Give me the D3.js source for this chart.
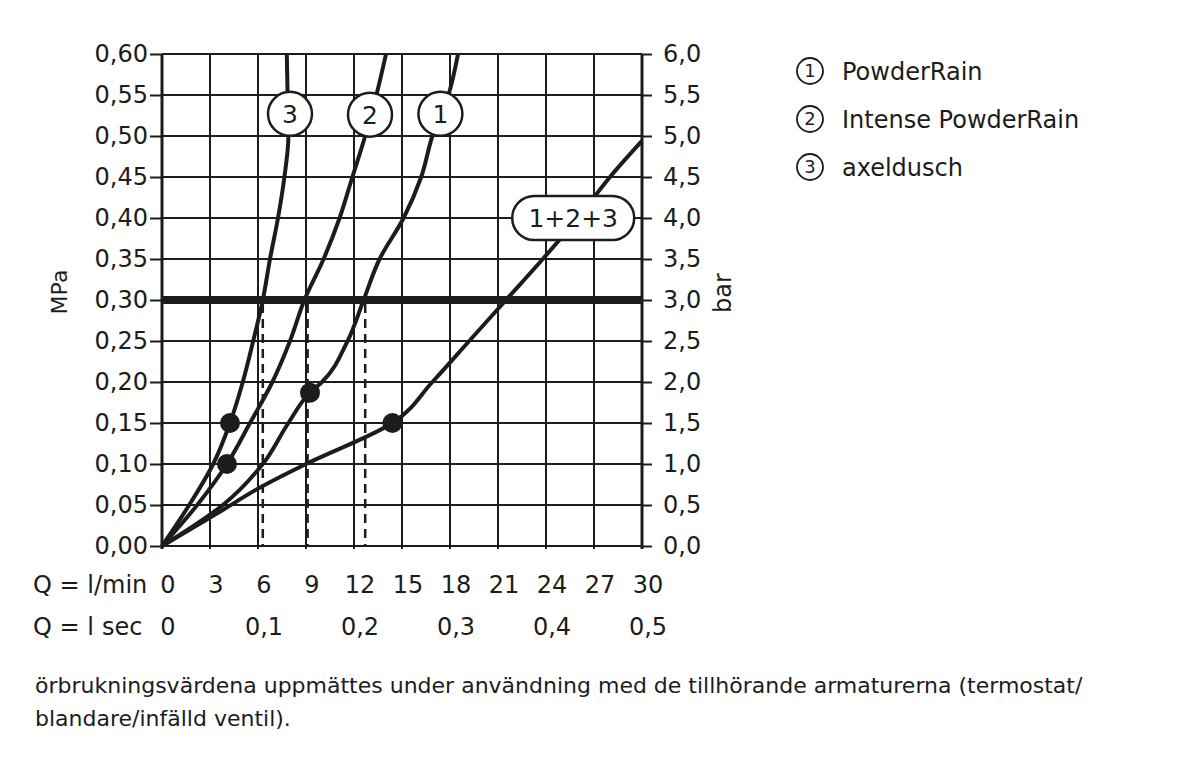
<!DOCTYPE html>
<html lang="sv">
<head>
<meta charset="UTF-8">
<title>Durchfluss-Diagramm</title>
<script src="https://cdn.jsdelivr.net/npm/d3@7"></script>
<style>
    body { margin: 0; background: #ffffff; }
    svg text { font-family: 'DejaVu Sans', sans-serif; fill: #1c1c1c; }
</style>
</head>
<body>
<div id="chart"></div>
<script>
// tick values
const flowTicks = [0, 3, 6, 9, 12, 15, 18, 21, 24, 27, 30]      // l/min
const secTicks = [0, 0.1, 0.2, 0.3, 0.4, 0.5]                  // l/sec
const mpaTicks = [0, 0.05, 0.10, 0.15, 0.20, 0.25, 0.30, 0.35, 0.40, 0.45, 0.50, 0.55, 0.60]
const barTicks = [0, 0.5, 1.0, 1.5, 2.0, 2.5, 3.0, 3.5, 4.0, 4.5, 5.0, 5.5, 6.0]

// curves: [Q l/min, p MPa]
const powderRain = [[0, 0], [3.8, 0.05], [6.3, 0.10], [7.9, 0.15], [9.25, 0.187], [10.0, 0.20],
    [11.6, 0.25], [12.6, 0.30], [13.6, 0.35], [15.1, 0.40], [16.2, 0.45], [16.9, 0.50],
    [17.9, 0.55], [18.5, 0.60]]
const intensePowderRain = [[0, 0], [2.2, 0.05], [4.06, 0.10], [5.5, 0.15], [6.9, 0.20],
    [8.0, 0.25], [8.9, 0.30], [10.1, 0.35], [11.1, 0.40], [11.9, 0.45], [12.7, 0.50],
    [13.4, 0.55], [14.0, 0.60]]
const axeldusch = [[0, 0], [1.7, 0.05], [3.2, 0.10], [4.25, 0.15], [5.05, 0.20], [5.7, 0.25],
    [6.3, 0.30], [6.75, 0.35], [7.25, 0.40], [7.65, 0.45], [7.9, 0.50], [7.85, 0.55], [7.8, 0.60]]
const combined = [[0, 0], [3.8, 0.044], [6.1, 0.071], [9.0, 0.10], [14.4, 0.15], [16.9, 0.20],
    [19.2, 0.25], [21.5, 0.30], [23.8, 0.35], [26.0, 0.40], [28.0, 0.45], [30, 0.494]]

const markers = [[4.25, 0.15], [4.06, 0.10], [9.25, 0.187], [14.4, 0.15]]
const refPressure = 0.30
const refFlows = [6.3, 9.1, 12.7]

const bubbles = [
    { text: "3", q: 8.0, p: 0.527 },
    { text: "2", q: 13.0, p: 0.526 },
    { text: "1", q: 17.4, p: 0.527 }
]
const comboLabel = { text: "1+2+3", q: 25.7, p: 0.40 }

const legendItems = ["PowderRain", "Intense PowderRain", "axeldusch"]
const note = [
    "örbrukningsvärdena uppmättes under användning med de tillhörande armaturerna (termostat/",
    "blandare/infälld ventil)."
]

const width = 1200
const height = 765
const ink = "#1c1c1c"

const svg = d3.select("#chart").append("svg")
    .attr("width", width)
    .attr("height", height)

const x = d3.scaleLinear().domain([0, 30]).range([162, 642])
const y = d3.scaleLinear().domain([0, 0.6]).range([546, 54])
const yBar = d3.scaleLinear().domain([0, 6]).range([546, 54])

const locale = d3.formatLocale({ decimal: ",", thousands: ".", grouping: [3], currency: ["", ""] })
const fmt2 = locale.format(".2f")
const fmt1 = locale.format(".1f")

// grid
const grid = svg.append("g")
grid.selectAll(".v")
    .data(flowTicks)
    .enter().append("line")
    .attr("x1", d => x(d)).attr("x2", d => x(d))
    .attr("y1", y(0.6)).attr("y2", y(0) + 3)
    .attr("stroke", ink)
    .attr("stroke-width", (d, i) => (i === 0 || i === flowTicks.length - 1) ? 3 : 2)
grid.selectAll(".h")
    .data(mpaTicks)
    .enter().append("line")
    .attr("x1", x(0)).attr("x2", x(30))
    .attr("y1", d => y(d)).attr("y2", d => y(d))
    .attr("stroke", ink)
    .attr("stroke-width", 2)

// 0,3 MPa reference
svg.append("line")
    .attr("x1", x(0)).attr("x2", x(30))
    .attr("y1", y(refPressure)).attr("y2", y(refPressure))
    .attr("stroke", ink)
    .attr("stroke-width", 8)

svg.selectAll(".dash")
    .data(refFlows)
    .enter().append("line")
    .attr("x1", d => x(d)).attr("x2", d => x(d))
    .attr("y1", y(refPressure) + 4).attr("y2", y(0))
    .attr("stroke", ink)
    .attr("stroke-width", 2.5)
    .attr("stroke-dasharray", "9,6")

// curves
const line = d3.line()
    .x(d => x(d[0]))
    .y(d => y(d[1]))
    .curve(d3.curveMonotoneY)

svg.selectAll(".curve")
    .data([powderRain, intensePowderRain, axeldusch, combined])
    .enter().append("path")
    .attr("d", line)
    .attr("fill", "none")
    .attr("stroke", ink)
    .attr("stroke-width", 4)
    .attr("stroke-linejoin", "round")

svg.selectAll(".dot")
    .data(markers)
    .enter().append("circle")
    .attr("cx", d => x(d[0]))
    .attr("cy", d => y(d[1]))
    .attr("r", 10)
    .attr("fill", ink)

// curve labels
const bub = svg.selectAll(".bubble")
    .data(bubbles)
    .enter().append("g")
    .attr("transform", d => `translate(${x(d.q)},${y(d.p)})`)
bub.append("circle")
    .attr("r", 22)
    .attr("fill", "#fff")
    .attr("stroke", ink)
    .attr("stroke-width", 2.5)
bub.append("text")
    .attr("text-anchor", "middle")
    .attr("dy", "0.36em")
    .style("font-size", "25px")
    .text(d => d.text)

const combo = svg.append("g")
    .attr("transform", `translate(${x(comboLabel.q)},${y(comboLabel.p)})`)
combo.append("rect")
    .attr("x", -61).attr("y", -22)
    .attr("width", 122).attr("height", 44)
    .attr("rx", 22)
    .attr("fill", "#fff")
    .attr("stroke", ink)
    .attr("stroke-width", 2.5)
combo.append("text")
    .attr("text-anchor", "middle")
    .attr("dy", "0.36em")
    .style("font-size", "25px")
    .text(comboLabel.text)

// axes
const left = svg.append("g")
    .attr("transform", `translate(${x(0)},0)`)
    .call(d3.axisLeft(y).tickValues(mpaTicks).tickFormat(fmt2).tickSize(12).tickPadding(2))
const right = svg.append("g")
    .attr("transform", `translate(${x(30)},0)`)
    .call(d3.axisRight(yBar).tickValues(barTicks).tickFormat(fmt1).tickSize(10).tickPadding(11))

for (const ax of [left, right]) {
    ax.select(".domain").remove()
    ax.selectAll(".tick line").attr("stroke", ink).attr("stroke-width", 2)
    ax.selectAll(".tick text")
        .attr("fill", ink)
        .style("font-family", "'DejaVu Sans', sans-serif")
        .style("font-size", "24px")
}

svg.append("text")
    .attr("transform", "translate(67,292) rotate(-90)")
    .attr("text-anchor", "middle")
    .style("font-size", "22px")
    .text("MPa")
svg.append("text")
    .attr("transform", "translate(731,293) rotate(-90)")
    .attr("text-anchor", "middle")
    .style("font-size", "24px")
    .text("bar")

// flow rows
svg.append("text").attr("x", 33).attr("y", 593).style("font-size", "24px").text("Q = l/min")
svg.selectAll(".fl")
    .data(flowTicks)
    .enter().append("text")
    .attr("x", d => x(d) + 6)
    .attr("y", 593)
    .attr("text-anchor", "middle")
    .style("font-size", "24px")
    .text(d => d)

svg.append("text").attr("x", 33).attr("y", 635).style("font-size", "24px").text("Q = l")
svg.append("text").attr("x", 102).attr("y", 635).style("font-size", "24px").text("sec")
svg.selectAll(".sc")
    .data(secTicks)
    .enter().append("text")
    .attr("x", d => x(d * 60) + 6)
    .attr("y", 635)
    .attr("text-anchor", "middle")
    .style("font-size", "24px")
    .text(d => d === 0 ? "0" : fmt1(d))

// legend
const leg = svg.selectAll(".leg")
    .data(legendItems)
    .enter().append("g")
    .attr("transform", (d, i) => `translate(810,${71 + i * 48})`)
leg.append("circle")
    .attr("r", 13)
    .attr("fill", "none")
    .attr("stroke", ink)
    .attr("stroke-width", 1.8)
leg.append("text")
    .attr("text-anchor", "middle")
    .attr("dy", "0.36em")
    .style("font-size", "18px")
    .text((d, i) => i + 1)
leg.append("text")
    .attr("x", 32)
    .attr("dy", "0.36em")
    .style("font-size", "24px")
    .text(d => d)

// footnote
svg.selectAll(".note")
    .data(note)
    .enter().append("text")
    .attr("x", 35)
    .attr("y", (d, i) => 693 + i * 33)
    .style("font-size", "22px")
    .text(d => d)
</script>
</body>
</html>
